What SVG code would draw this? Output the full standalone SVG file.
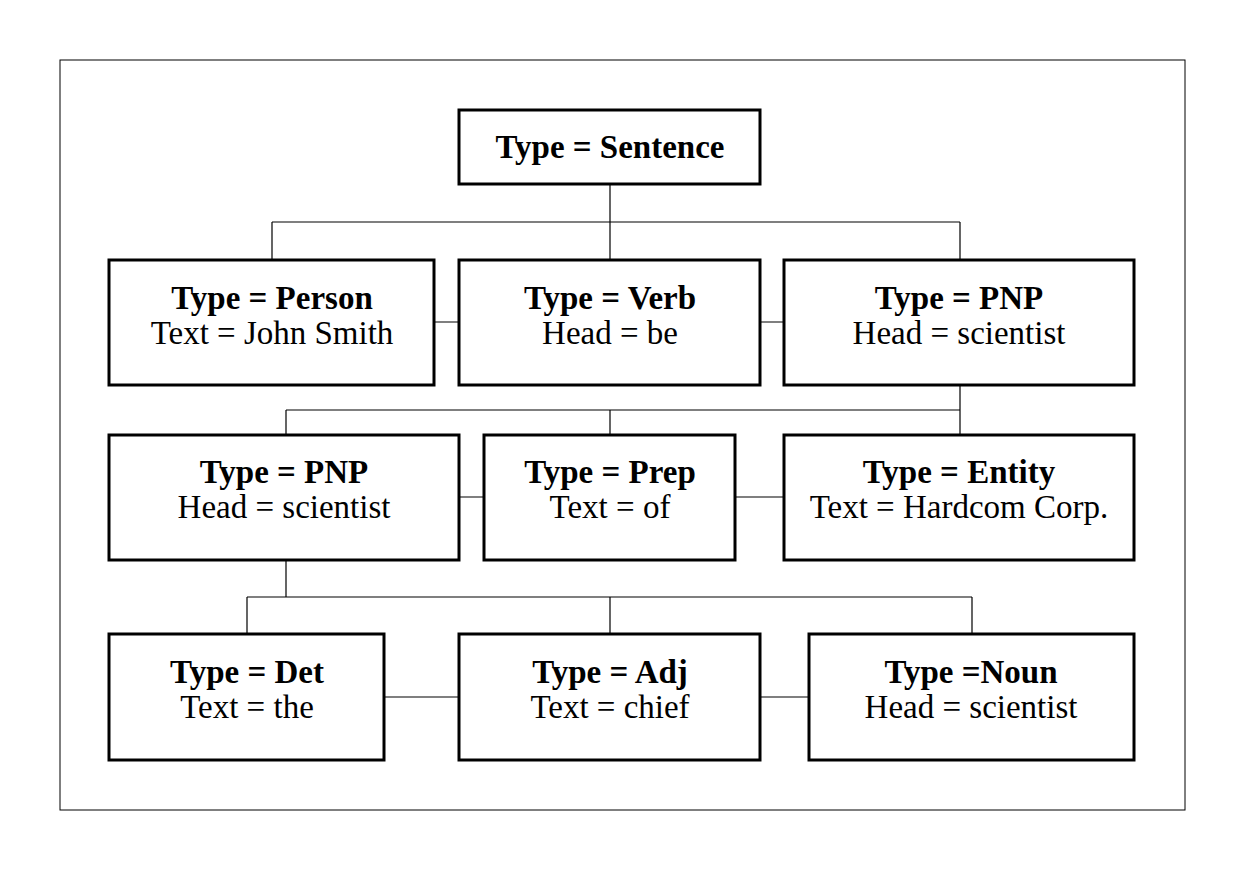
<svg xmlns="http://www.w3.org/2000/svg" width="1244" height="870" viewBox="0 0 1244 870">
<style>
.b{fill:#fff;stroke:#000;stroke-width:3}
.l{stroke:#000;stroke-width:1.2;fill:none}
text{font-family:"Liberation Serif",serif;font-size:33px;text-anchor:middle;fill:#000}
.t{font-weight:bold}
</style>
<rect x="0" y="0" width="1244" height="870" fill="#fff"/>
<rect x="60" y="60" width="1125" height="750" fill="none" stroke="#000" stroke-width="1"/>
<g id="connectors" class="l">
<path d="M610 184V222M272 222H960M272 222V260M610 222V260M960 222V260"/>
<path d="M434 322H459M760 322H784"/>
<path d="M960 385V410M286 410H960M286 410V435M610 410V435M960 410V435"/>
<path d="M459 497H484M735 497H784"/>
<path d="M286 560V597M247 597H972M247 597V634M610 597V634M972 597V634"/>
<path d="M384 697H459M760 697H809"/>
</g>
<g id="sentence"><rect class="b" x="459" y="110" width="301" height="74"/><text class="t" x="610" y="158">Type = Sentence</text></g>
<g id="person"><rect class="b" x="109" y="260" width="325" height="125"/><text class="t" x="272" y="309">Type = Person</text><text x="272" y="344">Text = John Smith</text></g>
<g id="verb"><rect class="b" x="459" y="260" width="301" height="125"/><text class="t" x="610" y="309">Type = Verb</text><text x="610" y="344">Head = be</text></g>
<g id="pnp1"><rect class="b" x="784" y="260" width="350" height="125"/><text class="t" x="959" y="309">Type = PNP</text><text x="959" y="344">Head = scientist</text></g>
<g id="pnp2"><rect class="b" x="109" y="435" width="350" height="125"/><text class="t" x="284" y="483">Type = PNP</text><text x="284" y="518">Head = scientist</text></g>
<g id="prep"><rect class="b" x="484" y="435" width="251" height="125"/><text class="t" x="610" y="483">Type = Prep</text><text x="610" y="518">Text = of</text></g>
<g id="entity"><rect class="b" x="784" y="435" width="350" height="125"/><text class="t" x="959" y="483">Type = Entity</text><text x="959" y="518">Text = Hardcom Corp.</text></g>
<g id="det"><rect class="b" x="109" y="634" width="275" height="126"/><text class="t" x="247" y="683">Type = Det</text><text x="247" y="718">Text = the</text></g>
<g id="adj"><rect class="b" x="459" y="634" width="301" height="126"/><text class="t" x="610" y="683">Type = Adj</text><text x="610" y="718">Text = chief</text></g>
<g id="noun"><rect class="b" x="809" y="634" width="325" height="126"/><text class="t" x="971" y="683">Type =Noun</text><text x="971" y="718">Head = scientist</text></g>
</svg>
